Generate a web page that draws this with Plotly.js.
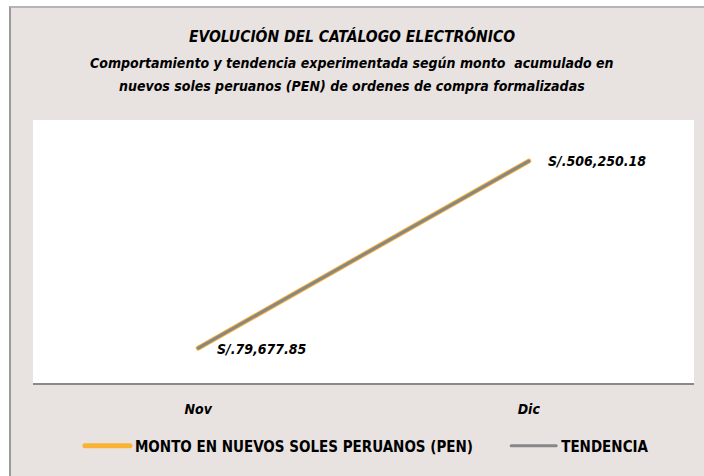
<!DOCTYPE html>
<html>
<head>
<meta charset="utf-8">
<script src="https://cdn.plot.ly/plotly-3.0.1.min.js"></script>
<style>
  html, body { margin: 0; padding: 0; background: #fff; }
  #frame {
    position: absolute; left: 9px; top: 6px;
    width: 693px; height: 468px;
    border-left: 2px solid #9a9a9a; border-top: 2px solid #b5b5b5;
    background: #e8e3e1;
  }
  #chart { width: 693px; height: 468px; }
  .js-line { stroke-linecap: round !important; }
</style>
</head>
<body>
<div id="frame"><div id="chart"></div></div>
<script>
const FONT = '"Liberation Sans Narrow", "DejaVu Sans Condensed", Roboto, sans-serif';

const meses = ['Nov', 'Dic'];
const montoPEN = [79677.85, 506250.18];
const tendencia = [79677.85, 506250.18];
const etiquetas = montoPEN.map(v => 'S/.' + v.toLocaleString('en-US', { minimumFractionDigits: 2, maximumFractionDigits: 2 }));

const traces = [
  {
    x: meses, y: montoPEN,
    type: 'scatter', mode: 'lines',
    // trailing nbsp keep the gap before the second legend entry
    name: 'MONTO EN NUEVOS SOLES PERUANOS (PEN)\u00a0\u00a0\u00a0\u00a0\u00a0\u00a0',
    line: { color: '#f9b233', width: 5 },
    hoverinfo: 'skip',
  },
  {
    x: meses, y: tendencia,
    type: 'scatter', mode: 'lines',
    name: 'TENDENCIA',
    line: { color: '#878787', width: 3 },
    hoverinfo: 'skip',
  },
];

const labelShift = [-1, 0];

const layout = {
  width: 693, height: 468,
  margin: { l: 22, r: 10, t: 112, b: 93 },
  paper_bgcolor: '#e8e3e1',
  plot_bgcolor: '#ffffff',
  font: { family: FONT, color: '#000' },
  title: {
    text: '<b><i>EVOLUCIÓN DEL CATÁLOGO ELECTRÓNICO</i></b>',
    font: { size: 15.5, family: FONT, color: '#000' },
    xref: 'container', x: 0.492, xanchor: 'center',
    yref: 'container', y: 1 - 29 / 468, yanchor: 'middle',
  },
  xaxis: {
    type: 'category', range: [-0.5, 1.5],
    showline: true, linecolor: '#8a8a8a', linewidth: 2,
    showgrid: false, zeroline: false,
    ticks: 'outside', ticklen: 12, tickcolor: 'rgba(0,0,0,0)',
    tickfont: { size: 14, family: FONT, color: '#000', weight: 'bold', style: 'italic' },
    fixedrange: true,
  },
  yaxis: {
    range: [0, 600000],
    showgrid: false, zeroline: false, showline: false, showticklabels: false, ticks: '',
    fixedrange: true,
  },
  showlegend: true,
  legend: {
    orientation: 'h',
    x: 0.071, xanchor: 'left',
    y: -0.2395, yanchor: 'middle',
    bgcolor: 'rgba(0,0,0,0)',
    font: { size: 15, family: FONT, color: '#000', weight: 'bold' },
    itemwidth: 45,
  },
  annotations: [
    {
      text: '<b><i>Comportamiento y tendencia experimentada según monto  acumulado en</i></b>',
      xref: 'paper', yref: 'paper', x: 0.4826, y: 1.2167,
      xanchor: 'center', yanchor: 'middle', showarrow: false,
      font: { size: 14, family: FONT, color: '#000' },
    },
    {
      text: '<b><i>nuevos soles peruanos (PEN) de ordenes de compra formalizadas</i></b>',
      xref: 'paper', yref: 'paper', x: 0.4826, y: 1.1293,
      xanchor: 'center', yanchor: 'middle', showarrow: false,
      font: { size: 14, family: FONT, color: '#000' },
    },
    ...meses.map((m, i) => ({
      text: '<b><i>' + etiquetas[i] + '</i></b>',
      x: m, y: montoPEN[i], xref: 'x', yref: 'y',
      xanchor: 'left', yanchor: 'middle', xshift: 17, yshift: labelShift[i],
      showarrow: false,
      font: { size: 14, family: FONT, color: '#000' },
    })),
  ],
};

Plotly.newPlot('chart', traces, layout, { displayModeBar: false, staticPlot: true });
</script>
</body>
</html>
